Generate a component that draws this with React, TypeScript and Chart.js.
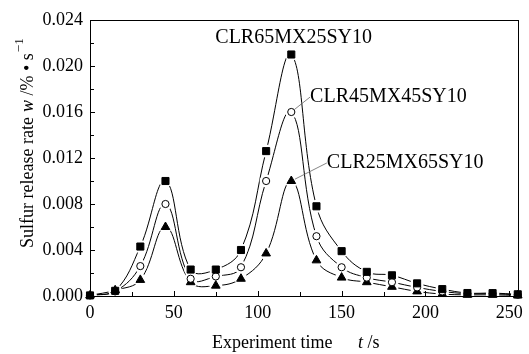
import React, { useEffect, useRef } from "react";
import { Chart, registerables } from "chart.js";

Chart.register(...registerables);

const times = [0, 15, 30, 45, 60, 75, 90, 105, 120, 135, 150, 165, 180, 195, 210, 225, 240, 255];
const seriesNames = ["CLR65MX25SY10", "CLR45MX45SY10", "CLR25MX65SY10"];
const clr65 = [0.00005, 0.00045, 0.0043, 0.0100, 0.0023, 0.0023, 0.0040, 0.0126, 0.0210, 0.0078, 0.0039, 0.0021, 0.0018, 0.0011, 0.0006, 0.00026, 0.00025, 0.00015];
const clr45 = [0.00005, 0.0004, 0.0026, 0.0080, 0.0015, 0.0017, 0.0025, 0.0100, 0.0160, 0.0052, 0.0025, 0.0016, 0.0012, 0.00075, 0.0004, 0.0002, 0.0002, 0.0001];
const clr25 = [0.00005, 0.0005, 0.0014, 0.0060, 0.0012, 0.0009, 0.0015, 0.0037, 0.0100, 0.0031, 0.0016, 0.0012, 0.0008, 0.0004, 0.00017, 0.0001, 0.0001, 0.00005];
const xTicks = [0, 50, 100, 150, 200, 250];
const yTicks = [0, 0.004, 0.008, 0.012, 0.016, 0.020, 0.024];
// label anchors in data space: [x, y]
const labelAnchors = [[74.7, 0.02245], [131.2, 0.0173], [141.2, 0.01157]];

const FONT = "'Liberation Serif', 'Times New Roman', serif";

export default function App() {
  const ref = useRef<HTMLCanvasElement>(null);
  useEffect(() => {
    document.body.style.margin = "0";
    const canvas = ref.current!;
    const all = [clr65, clr45, clr25];
    const pts = (arr: number[]) => times.map((t, i) => ({ x: t, y: arr[i] }));
    const styles = ["rect", "circle", "triangle"];
    const radii = [5, 3.6, 5];
    const datasets: any[] = [];
    all.forEach((arr, i) => {
      datasets.push({
        label: seriesNames[i] + " marker",
        data: pts(arr),
        showLine: false,
        pointStyle: styles[i],
        pointRadius: radii[i],
        pointBackgroundColor: i === 1 ? "#fff" : "#000",
        pointBorderColor: "#000",
        pointBorderWidth: 1,
        order: 1,
        clip: false,
      });
    });
    all.forEach((arr, i) => {
      datasets.push({
        label: seriesNames[i] + " halo",
        data: pts(arr),
        showLine: false,
        pointStyle: "circle",
        pointRadius: 6.5,
        pointBackgroundColor: "#fff",
        pointBorderWidth: 0,
        order: 2,
        clip: 0,
      });
    });
    all.forEach((arr, i) => {
      datasets.push({
        label: seriesNames[i],
        data: pts(arr),
        showLine: true,
        borderColor: "#000",
        borderWidth: 1,
        tension: 0.4,
        pointRadius: 0,
        order: 3,
        clip: 0,
      });
    });

    const framePlugin = {
      id: "frame",
      afterDatasetsDraw(chart: any) {
        const { ctx, chartArea: a, scales } = chart;
        const x = scales.x, y = scales.y;
        ctx.save();
        // frame
        ctx.strokeStyle = "#000";
        ctx.lineWidth = 1;
        ctx.strokeRect(Math.round(a.left) + 0.5, Math.round(a.top) + 0.5, Math.round(a.right - a.left), Math.round(a.bottom - a.top));
        // ticks inward
        ctx.beginPath();
        for (let v = 0; v <= 0.0241; v += 0.002) {
          const py = Math.round(y.getPixelForValue(v)) + 0.5;
          const major = Math.round(v * 1000) % 4 === 0;
          ctx.moveTo(a.left, py);
          ctx.lineTo(a.left + (major ? 5 : 4), py);
        }
        for (let v = 0; v <= 255; v += 25) {
          const px = Math.round(x.getPixelForValue(v)) + 0.5;
          const major = v % 50 === 0;
          ctx.moveTo(px, a.bottom);
          ctx.lineTo(px, a.bottom - (major ? 5 : 4));
        }
        ctx.stroke();
        // annotations
        ctx.fillStyle = "#000";
        ctx.font = `20px ${FONT}`;
        ctx.textBaseline = "middle";
        ctx.textAlign = "left";
        labelAnchors.forEach((p, i) => {
          ctx.fillText(seriesNames[i], x.getPixelForValue(p[0]), y.getPixelForValue(p[1]));
        });
        // leader lines
        ctx.strokeStyle = "#666";
        ctx.lineWidth = 0.8;
        [1, 2].forEach((i) => {
          const arr = all[i];
          const mx = x.getPixelForValue(times[8]);
          const my = y.getPixelForValue(arr[8]);
          const tx = x.getPixelForValue(labelAnchors[i][0]);
          const ty = y.getPixelForValue(labelAnchors[i][1]);
          const dx = tx - mx, dy = ty - my;
          const len = Math.hypot(dx, dy);
          ctx.beginPath();
          ctx.moveTo(mx + (dx / len) * 4, my + (dy / len) * 4);
          ctx.lineTo(tx, ty);
          ctx.stroke();
        });
        // axis titles
        ctx.fillStyle = "#000";
        ctx.textBaseline = "middle";
        ctx.font = `18px ${FONT}`;
        ctx.fillText("Experiment time", 212, 343);
        ctx.font = `italic 18px ${FONT}`;
        ctx.fillText("t", 358, 343);
        const tw = ctx.measureText("t").width;
        ctx.font = `18px ${FONT}`;
        ctx.fillText(" /s", 358 + tw, 343);

        ctx.translate(28, 248);
        ctx.rotate(-Math.PI / 2);
        ctx.font = `18px ${FONT}`;
        ctx.fillText("Sulfur release rate", 0, 0);
        let cx = 136;
        ctx.font = `italic 18px ${FONT}`;
        ctx.fillText("w", cx, 0);
        cx += ctx.measureText("w").width;
        ctx.font = `18px ${FONT}`;
        const unit = " /% \u2022 s";
        ctx.fillText(unit, cx, 0);
        cx += ctx.measureText(unit).width;
        ctx.font = `13px ${FONT}`;
        ctx.fillText("\u2212", cx + 1, -8);
        cx += ctx.measureText("\u2212").width + 1;
        ctx.fillText("1", cx, -8);
        ctx.restore();
      },
    };

    const chart = new Chart(canvas, {
      type: "line",
      data: { datasets },
      options: {
        animation: false,
        responsive: false,
        maintainAspectRatio: false,
        layout: { padding: { top: 20, right: 6, left: 0, bottom: 0 } },
        plugins: { legend: { display: false }, tooltip: { enabled: false } },
        scales: {
          x: {
            type: "linear",
            min: 0,
            max: 255,
            grid: { display: false, drawTicks: false },
            border: { display: false },
            ticks: { color: "#000", font: { family: FONT, size: 18 }, padding: 6, maxRotation: 0 },
            afterBuildTicks: (s: any) => { s.ticks = xTicks.map((v) => ({ value: v })); },
            afterFit: (s: any) => { s.height = 58; },
          },
          y: {
            type: "linear",
            min: 0,
            max: 0.024,
            grid: { display: false, drawTicks: false },
            border: { display: false },
            ticks: {
              color: "#000",
              font: { family: FONT, size: 18 },
              padding: 7,
              callback: (v: any) => Number(v).toFixed(3),
            },
            afterBuildTicks: (s: any) => { s.ticks = yTicks.map((v) => ({ value: v })); },
            afterFit: (s: any) => { s.width = 90; },
          },
        },
      },
      plugins: [framePlugin],
    });
    return () => chart.destroy();
  }, []);
  return (
    <div style={{ width: 529, height: 354 }}>
      <canvas ref={ref} width={529} height={354} style={{ display: "block" }} />
    </div>
  );
}
